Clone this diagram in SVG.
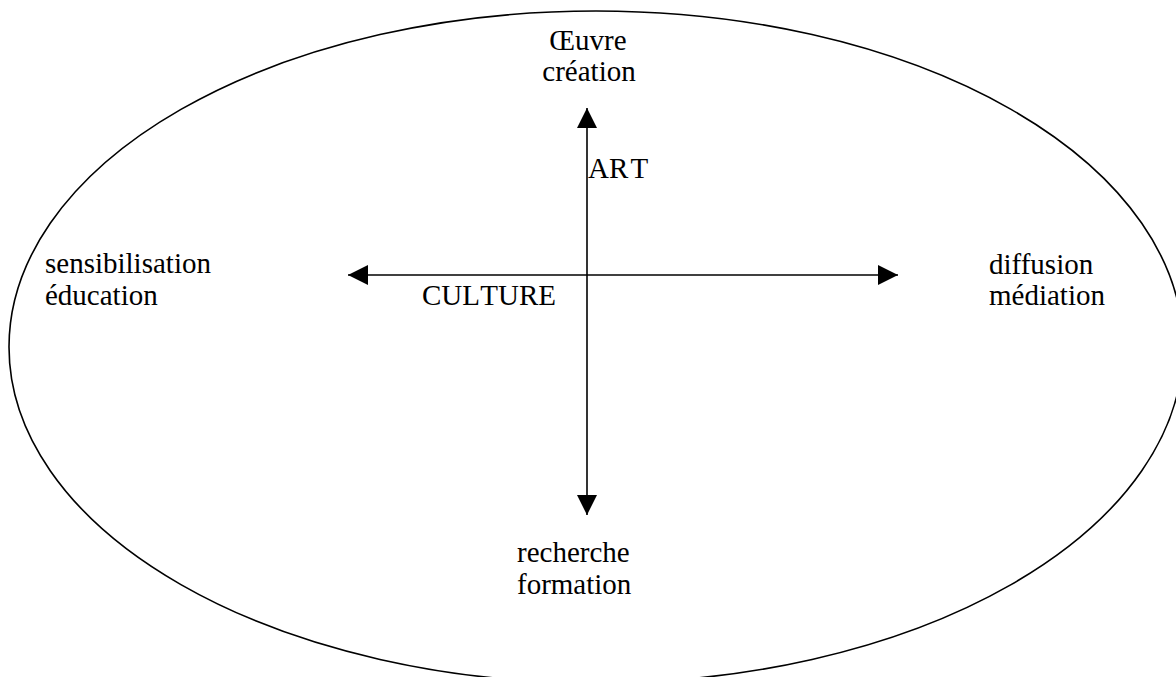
<svg xmlns="http://www.w3.org/2000/svg" width="1176" height="677" viewBox="0 0 1176 677">
  <style>
    .lbl { font-family: "Liberation Serif", "Times New Roman", serif; font-size: 29px; fill: #000; }
    .conn { stroke: #000; stroke-width: 1.6; fill: none; }
    .outline { stroke: #000; stroke-width: 1.6; fill: none; }
  </style>
  <defs>
    <marker id="arrow" markerUnits="userSpaceOnUse" markerWidth="20" markerHeight="20" refX="20" refY="10" orient="auto-start-reverse" viewBox="0 0 20 20">
      <path d="M0,0 L20,10 L0,20 Z" fill="#000"/>
    </marker>
  </defs>
  <rect x="0" y="0" width="1176" height="677" fill="#fff"/>
  <g id="boundary">
    <ellipse class="outline" cx="596" cy="347" rx="587" ry="336"/>
  </g>
  <g id="connectors">
    <line id="axis-vertical" class="conn" x1="587" y1="108" x2="587" y2="515" marker-start="url(#arrow)" marker-end="url(#arrow)"/>
    <line id="axis-horizontal" class="conn" x1="348" y1="275" x2="898" y2="275" marker-start="url(#arrow)" marker-end="url(#arrow)"/>
  </g>
  <g id="node-oeuvre">
    <text class="lbl" x="588" y="50" text-anchor="middle">Œuvre</text>
    <text class="lbl" x="589" y="81" text-anchor="middle">création</text>
  </g>
  <g id="node-sensibilisation">
    <text class="lbl" x="45" y="273">sensibilisation</text>
    <text class="lbl" x="45" y="305">éducation</text>
  </g>
  <g id="node-diffusion">
    <text class="lbl" x="989" y="274">diffusion</text>
    <text class="lbl" x="989" y="305">médiation</text>
  </g>
  <g id="node-recherche">
    <text class="lbl" x="517" y="562">recherche</text>
    <text class="lbl" x="517" y="594">formation</text>
  </g>
  <g id="label-art">
    <text class="lbl" x="588" y="178">AR<tspan dx="4">T</tspan></text>
  </g>
  <g id="label-culture">
    <text class="lbl" x="422" y="305">CUL<tspan dx="3">TURE</tspan></text>
  </g>
</svg>
